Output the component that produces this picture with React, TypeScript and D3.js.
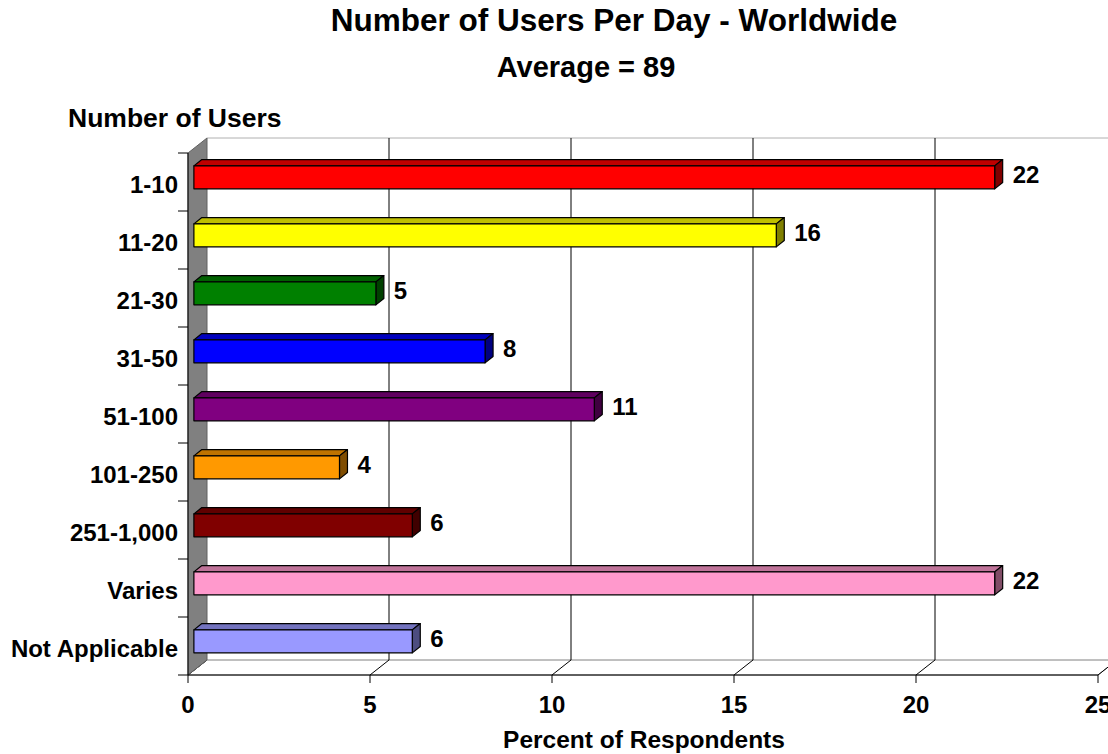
import React from "react";
import * as d3 from "d3";

const categories = ["1-10", "11-20", "21-30", "31-50", "51-100", "101-250", "251-1,000", "Varies", "Not Applicable"];
const values = [22, 16, 5, 8, 11, 4, 6, 22, 6];
const colors = ["#FF0000", "#FFFF00", "#008000", "#0000FF", "#800080", "#FF9900", "#800000", "#FF99CC", "#9999FF"];
const xTicks = [0, 5, 10, 15, 20, 25];

const W = 1108, H = 754;
const FONT = "Arial, 'Liberation Sans', Helvetica, sans-serif";

export default function App() {
  const x = d3.scaleLinear().domain([0, 25]).range([188, 1098]);
  const y = d3.scaleBand<string>().domain(categories).range([153, 675]).padding(0);
  const depth = { dx: 19, dy: -15 };
  const f0 = 0.31, f1 = 0.73; // bar depth positions
  const barH = 23;
  const top = 153, bottom = 675;

  const shade = (c: string, k: number) => {
    const col = d3.rgb(c);
    return d3.rgb(col.r * k, col.g * k, col.b * k).formatHex();
  };

  const poly = (pts: [number, number][]) => pts.map((p) => p.join(",")).join(" ");

  return (
    <svg width={W} height={H} style={{ position: "absolute", left: 0, top: 0, background: "#fff" }} fontFamily={FONT}>
      {/* Titles */}
      <text x={614} y={31} textAnchor="middle" fontSize={31.5} fontWeight="bold">Number of Users Per Day - Worldwide</text>
      <text x={586} y={77} textAnchor="middle" fontSize={29} fontWeight="bold">Average = 89</text>
      <text x={68} y={127} fontSize={26.5} fontWeight="bold">Number of Users</text>

      {/* plot area top border */}
      <line x1={x(0) + depth.dx} x2={W} y1={top + depth.dy} y2={top + depth.dy} stroke="#b0b0b0" strokeWidth={1} />

      {/* floor */}
      <polygon
        points={poly([
          [x(0), bottom],
          [x(0) + depth.dx, bottom + depth.dy],
          [x(25) + depth.dx, bottom + depth.dy],
          [x(25), bottom],
        ])}
        fill="#fff"
        stroke="#808080"
        strokeWidth={1}
      />
      {/* floor depth lines at ticks */}
      {xTicks.map((t) => (
        <line key={"fd" + t} x1={x(t)} y1={bottom} x2={x(t) + depth.dx} y2={bottom + depth.dy} stroke="#000" strokeWidth={1} />
      ))}

      {/* back wall gridlines */}
      {xTicks.slice(1).map((t) => (
        <line key={"g" + t} x1={x(t) + depth.dx} x2={x(t) + depth.dx} y1={top + depth.dy} y2={bottom + depth.dy} stroke="#000" strokeWidth={1} />
      ))}

      {/* side wall */}
      <polygon
        points={poly([
          [x(0), top],
          [x(0) + depth.dx, top + depth.dy],
          [x(0) + depth.dx, bottom + depth.dy],
          [x(0), bottom],
        ])}
        fill="#808080"
        stroke="#606060"
        strokeWidth={1}
      />

      {/* bars */}
      {categories.map((c, i) => {
        const cy = (y(c) as number) + y.bandwidth() / 2;
        const v = values[i];
        const fx0 = x(0) + depth.dx * f0;
        const fx1 = x(v) + depth.dx * f0;
        const fyT = cy - barH / 2 + depth.dy * f0;
        const fyB = fyT + barH;
        const ddx = depth.dx * (f1 - f0);
        const ddy = depth.dy * (f1 - f0);
        const col = colors[i];
        return (
          <g key={c} stroke="#000" strokeWidth={1.2} strokeLinejoin="round">
            <polygon points={poly([[fx0, fyT], [fx0 + ddx, fyT + ddy], [fx1 + ddx, fyT + ddy], [fx1, fyT]])} fill={shade(col, 0.75)} />
            <polygon points={poly([[fx1, fyT], [fx1 + ddx, fyT + ddy], [fx1 + ddx, fyB + ddy], [fx1, fyB]])} fill={shade(col, 0.5)} />
            <rect x={fx0} y={fyT} width={fx1 - fx0} height={barH} fill={col} />
            <text x={fx1 + ddx + 10} y={cy - 8} dominantBaseline="central" fontSize={24} fontWeight="bold" stroke="none" fill="#000">{v}</text>
          </g>
        );
      })}

      {/* left axis */}
      <line x1={x(0)} x2={x(0)} y1={top} y2={bottom} stroke="#000" strokeWidth={1} />
      {d3.range(categories.length + 1).map((i) => {
        const yy = top + i * y.step();
        return <line key={"yt" + i} x1={x(0) - 10} x2={x(0)} y1={yy} y2={yy} stroke="#000" strokeWidth={1} />;
      })}
      {categories.map((c) => (
        <text key={"yl" + c} x={178} y={(y(c) as number) + y.bandwidth() / 2 + 2} textAnchor="end" dominantBaseline="central" fontSize={24} fontWeight="bold">
          {c}
        </text>
      ))}

      {/* bottom axis */}
      <line x1={x(0)} x2={x(25)} y1={bottom} y2={bottom} stroke="#000" strokeWidth={1} />
      {xTicks.map((t) => (
        <g key={"xt" + t}>
          <line x1={x(t)} x2={x(t)} y1={bottom} y2={bottom + 8} stroke="#000" strokeWidth={1} />
          <text x={x(t)} y={713} textAnchor="middle" fontSize={24} fontWeight="bold">{t}</text>
        </g>
      ))}
      <text x={644} y={748} textAnchor="middle" fontSize={24.5} fontWeight="bold">Percent of Respondents</text>
    </svg>
  );
}
